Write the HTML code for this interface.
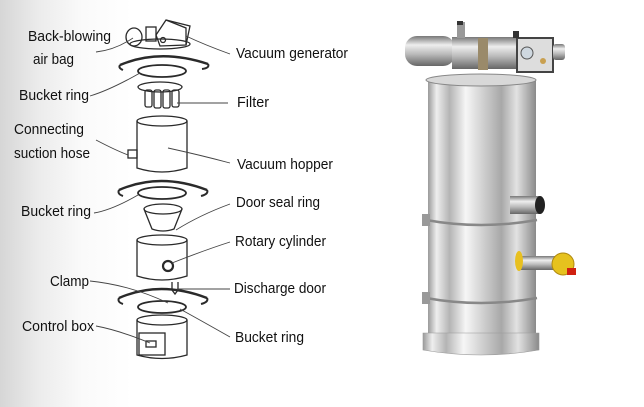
<!DOCTYPE html>
<html><head><meta charset="utf-8"><style>
html,body{margin:0;padding:0;background:#fff}
svg{display:block}
text{font-family:"Liberation Sans",sans-serif;font-size:14.5px;fill:#111}
</style></head><body>
<svg width="644" height="407" viewBox="0 0 644 407" xmlns="http://www.w3.org/2000/svg">
<defs>
<linearGradient id="bg" x1="0" x2="1" y1="0" y2="0">
<stop offset="0" stop-color="#d6d6d6"/><stop offset="0.12" stop-color="#ececec"/><stop offset="0.25" stop-color="#fafafa"/><stop offset="0.4" stop-color="#fff"/></linearGradient>
<linearGradient id="steel" x1="0" x2="1" y1="0" y2="0">
<stop offset="0" stop-color="#9a9a9a"/><stop offset="0.08" stop-color="#eeeeee"/><stop offset="0.2" stop-color="#b4b4b4"/><stop offset="0.35" stop-color="#f6f6f6"/><stop offset="0.5" stop-color="#d2d2d2"/><stop offset="0.68" stop-color="#a8a8a8"/><stop offset="0.82" stop-color="#e2e2e2"/><stop offset="1" stop-color="#8a8a8a"/></linearGradient>
<linearGradient id="steelv" x1="0" x2="0" y1="0" y2="1">
<stop offset="0" stop-color="#777"/><stop offset="0.3" stop-color="#eee"/><stop offset="0.6" stop-color="#bbb"/><stop offset="1" stop-color="#666"/></linearGradient>
</defs>
<rect width="644" height="407" fill="#fff"/>
<rect width="330" height="407" fill="url(#bg)"/>

<g fill="none" stroke="#2a2a2a" stroke-width="1.3">
<ellipse cx="160" cy="44" rx="30" ry="5"/>
<ellipse cx="134" cy="37" rx="8" ry="9"/>
<rect x="146" y="27" width="10" height="14"/>
<path d="M156 35 L166 20 L190 26 L186 45 L160 46 Z"/>
<path d="M166 20 L186 28 L186 45"/>
<circle cx="163" cy="40" r="2.5"/>
<path d="M120 65 Q160 48 208 64" stroke-width="2.4"/>
<path d="M120 65 Q118 68 123 70 M208 64 Q210 68 202 69" stroke-width="2"/>
<ellipse cx="162" cy="71" rx="24" ry="6" stroke-width="1.8"/>
<ellipse cx="160" cy="87" rx="22" ry="5"/>
<rect x="145" y="90" width="7" height="17" rx="2"/><rect x="154" y="90" width="7" height="18" rx="2"/><rect x="163" y="90" width="7" height="18" rx="2"/><rect x="172" y="90" width="7" height="17" rx="2"/>
<ellipse cx="162" cy="121" rx="25" ry="5"/>
<path d="M137 121 V168 Q162 176 187 168 V121"/>
<rect x="128" y="150" width="9" height="8"/>
<path d="M119 190 Q160 172 207 190" stroke-width="2.4"/>
<path d="M119 190 Q117 194 123 196 M207 190 Q209 194 201 196" stroke-width="2"/>
<ellipse cx="162" cy="193" rx="24" ry="6" stroke-width="1.8"/>
<ellipse cx="163" cy="209" rx="19" ry="5"/>
<path d="M144 209 L152 229 Q163 233 174 229 L182 209"/>
<ellipse cx="162" cy="240" rx="25" ry="5"/>
<path d="M137 240 V276 Q162 284 187 276 V240"/>
<circle cx="168" cy="266" r="5" stroke-width="2.2"/>
<path d="M172 282 v8 l3 4 l3 -4 v-8"/>
<path d="M119 298 Q160 280 207 298" stroke-width="2.4"/>
<path d="M119 298 Q117 302 123 304 M207 298 Q209 302 201 304" stroke-width="2"/>
<ellipse cx="162" cy="307" rx="24" ry="6" stroke-width="1.8"/>
<ellipse cx="162" cy="320" rx="25" ry="5"/>
<path d="M137 320 V355 Q162 362 187 355 V320"/>
<rect x="139" y="333" width="26" height="22"/>
<rect x="146" y="341" width="10" height="6"/>
<g stroke="#444" stroke-width="0.9">
<path d="M96 52 Q115 50 133 38"/>
<path d="M230 54 Q205 45 186 36"/>
<path d="M90 96 Q110 90 140 73"/>
<path d="M228 103 H177"/>
<path d="M96 140 Q115 150 128 155"/>
<path d="M230 163 Q200 155 168 148"/>
<path d="M94 213 Q112 210 138 195"/>
<path d="M230 204 Q200 215 176 230"/>
<path d="M230 242 Q205 250 172 263"/>
<path d="M90 281 Q130 285 168 303"/>
<path d="M230 289 H177"/>
<path d="M96 326 Q118 330 150 343"/>
<path d="M230 337 Q200 320 180 309"/>
</g>
</g>

<text x="28" y="41" textLength="83" lengthAdjust="spacingAndGlyphs">Back-blowing</text>
<text x="33" y="64" textLength="41" lengthAdjust="spacingAndGlyphs">air bag</text>
<text x="236" y="58" textLength="112" lengthAdjust="spacingAndGlyphs">Vacuum generator</text>
<text x="19" y="100" textLength="70" lengthAdjust="spacingAndGlyphs">Bucket ring</text>
<text x="237" y="107" textLength="32" lengthAdjust="spacingAndGlyphs">Filter</text>
<text x="14" y="134" textLength="70" lengthAdjust="spacingAndGlyphs">Connecting</text>
<text x="14" y="158" textLength="76" lengthAdjust="spacingAndGlyphs">suction hose</text>
<text x="237" y="169" textLength="96" lengthAdjust="spacingAndGlyphs">Vacuum hopper</text>
<text x="21" y="216" textLength="70" lengthAdjust="spacingAndGlyphs">Bucket ring</text>
<text x="236" y="207" textLength="84" lengthAdjust="spacingAndGlyphs">Door seal ring</text>
<text x="235" y="246" textLength="91" lengthAdjust="spacingAndGlyphs">Rotary cylinder</text>
<text x="50" y="286" textLength="39" lengthAdjust="spacingAndGlyphs">Clamp</text>
<text x="234" y="293" textLength="92" lengthAdjust="spacingAndGlyphs">Discharge door</text>
<text x="22" y="331" textLength="72" lengthAdjust="spacingAndGlyphs">Control box</text>
<text x="235" y="342" textLength="69" lengthAdjust="spacingAndGlyphs">Bucket ring</text>

<g>
<rect x="428" y="80" width="108" height="270" fill="url(#steel)"/>
<ellipse cx="481" cy="80" rx="55" ry="6" fill="#d8d8d8" stroke="#888"/>
<path d="M423 333 H539 V350 Q481 360 423 350 Z" fill="url(#steel)" stroke="#999" stroke-width="0.6"/>
<path d="M426 220 Q481 230 537 220" fill="none" stroke="#888" stroke-width="2.5"/>
<path d="M426 298 Q481 308 537 298" fill="none" stroke="#888" stroke-width="2.5"/>
<rect x="422" y="214" width="8" height="12" fill="#999"/>
<rect x="422" y="292" width="8" height="12" fill="#999"/>
<rect x="405" y="36" width="50" height="30" rx="12" fill="url(#steelv)"/>
<rect x="452" y="37" width="64" height="32" fill="url(#steelv)"/>
<rect x="478" y="38" width="10" height="32" fill="#9a8a6a"/>
<rect x="517" y="38" width="36" height="34" fill="#ddd" stroke="#444" stroke-width="2"/>
<circle cx="527" cy="53" r="6" fill="#cfd8e0" stroke="#555"/>
<circle cx="543" cy="61" r="3" fill="#c9a050"/>
<rect x="553" y="44" width="12" height="16" rx="3" fill="url(#steelv)"/>
<rect x="457" y="22" width="8" height="16" fill="#999"/>
<rect x="457" y="21" width="6" height="4" fill="#333"/>
<rect x="513" y="31" width="6" height="7" fill="#333"/>
<rect x="510" y="196" width="30" height="18" fill="url(#steelv)"/>
<ellipse cx="540" cy="205" rx="5" ry="9" fill="#222"/>
<rect x="520" y="256" width="40" height="14" fill="url(#steelv)"/>
<ellipse cx="519" cy="261" rx="4" ry="10" fill="#e8c020"/>
<circle cx="563" cy="264" r="11" fill="#e6c21e" stroke="#b08a10"/>
<rect x="567" y="268" width="9" height="7" fill="#d02010"/>
</g>
</svg>
</body></html>
